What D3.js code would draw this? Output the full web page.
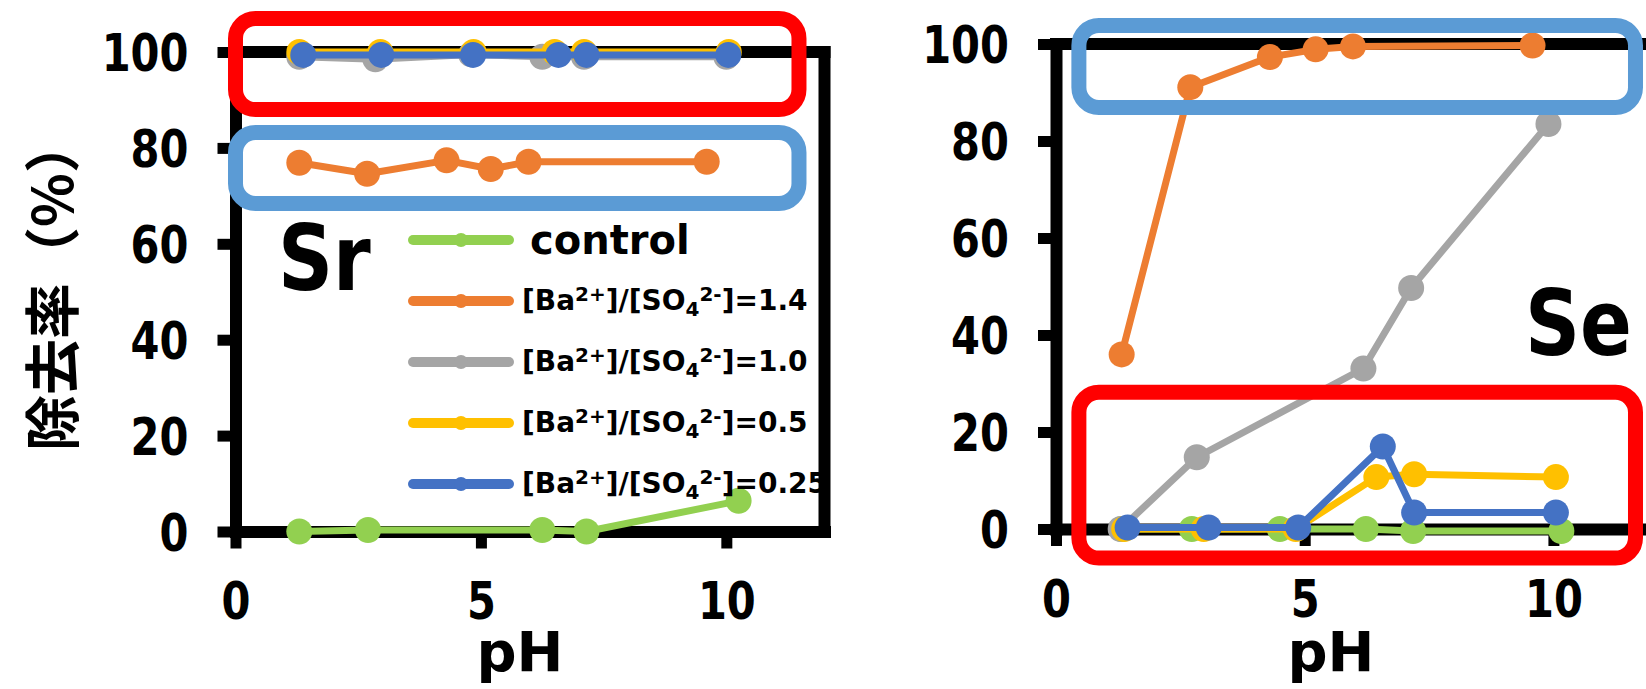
<!DOCTYPE html>
<html>
<head>
<meta charset="utf-8">
<script src="https://cdn.jsdelivr.net/npm/d3@7"></script>
<style>
  body { margin: 0; background: #fff; }
  svg { display: block; }
</style>
</head>
<body>
<div class="chart"></div>
<script>
// Data : [pH, removal %]
const phTicks = [0, 5, 10];
const pctTicks = [0, 20, 40, 60, 80, 100];
const seriesLabels = ["control", "1.4", "1.0", "0.5", "0.25"];
const seriesColors = ["#92D050", "#ED7D31", "#A5A5A5", "#FFC000", "#4472C4"];

// Sr panel
const srControl = [[1.3, 0], [2.7, 0.3], [6.25, 0.3], [7.15, 0], [10.25, 6.4]];
const srRatio14 = [[1.3, 76.9], [2.68, 74.6], [4.3, 77.4], [5.2, 75.6], [5.97, 77.1], [9.6, 77.1]];
const srRatio10 = [[1.3, 99], [2.85, 98.5], [4.8, 99.5], [6.25, 99], [7.1, 99], [10.0, 99]];
const srRatio05 = [[1.3, 100], [2.95, 100], [4.85, 100], [6.5, 100], [7.1, 100], [10.05, 100]];
const srRatio025 = [[1.38, 99.4], [2.97, 99.4], [4.84, 99.4], [6.58, 99.4], [7.15, 99.4], [10.04, 99.4]];

// Se panel
const seControl = [[1.32, 0], [2.73, 0], [4.5, 0], [6.23, 0], [7.18, -0.4], [10.16, -0.4]];
const seRatio14 = [[1.32, 36], [2.7, 91.1], [4.3, 97.3], [5.22, 98.9], [5.97, 99.5], [9.58, 99.7]];
const seRatio10 = [[1.3, 0], [2.83, 14.8], [6.18, 33.1], [7.14, 49.7], [9.9, 83.5]];
const seRatio05 = [[1.37, 0], [2.97, 0], [4.82, 0], [6.44, 10.7], [7.2, 11.3], [10.05, 10.7]];
const seRatio025 = [[1.44, 0.3], [3.07, 0.3], [4.87, 0.3], [6.57, 17.0], [7.2, 3.4], [10.05, 3.4]];

// highlight boxes in data units: [pH from, pH to, % low, % high, colour]
const srBoxes = [[0, 11.48, 88, 107, "#FF0000"], [0, 11.48, 68.4, 83.2, "#5B9BD5"]];
const seBoxes = [[0.46, 11.65, 86.9, 103.8, "#5B9BD5"], [0.46, 11.65, -6, 28.2, "#FF0000"]];

const width = 1646, height = 689;
const svg = d3.select(".chart").append("svg")
    .attr("width", width)
    .attr("height", height);
svg.append("rect").attr("width", width).attr("height", height).attr("fill", "#fff");

function drawPanel(cfg, series, boxes, element) {
    const x = d3.scaleLinear().domain([0, 12]).range([cfg.left, cfg.right]);
    const y = d3.scaleLinear().domain([0, 100]).range([cfg.bottom, cfg.top]);
    const g = svg.append("g");

    // y axis
    const yAx = g.append("g")
        .attr("transform", `translate(${x(0)},0)`)
        .call(d3.axisLeft(y).tickValues(pctTicks).tickSize(18).tickSizeOuter(0).tickPadding(0));
    // x axis
    const xAx = g.append("g")
        .attr("transform", `translate(0,${y(0)})`)
        .call(d3.axisBottom(x).tickValues(phTicks).tickSize(17).tickSizeOuter(0).tickPadding(0));

    [yAx, xAx].forEach(a => {
        a.select(".domain").attr("stroke", "#000").attr("stroke-width", 12).attr("stroke-linecap", "square");
        a.selectAll(".tick line").attr("stroke", "#000").attr("stroke-width", 11);
        a.selectAll(".tick text")
            .attr("fill", "#000")
            .style("font-family", "'DejaVu Sans', sans-serif")
            .style("font-weight", "bold")
            .style("font-size", "52px");
    });
    yAx.selectAll(".tick text")
        .attr("x", 0).attr("dy", "0.36em").attr("text-anchor", "end")
        .attr("transform", "translate(-47,0) scale(0.8,1)");
    xAx.selectAll(".tick text")
        .attr("y", 0).attr("dy", "0.36em").attr("text-anchor", "middle")
        .attr("transform", "translate(0,69) scale(0.8,1)");

    // frame top + right
    g.append("line")
        .attr("x1", x(0)).attr("x2", x(12)).attr("y1", y(100)).attr("y2", y(100))
        .attr("stroke", "#000").attr("stroke-width", 12).attr("stroke-linecap", "square");
    g.append("line")
        .attr("x1", x(12)).attr("x2", x(12)).attr("y1", y(100)).attr("y2", y(0))
        .attr("stroke", "#000").attr("stroke-width", 12).attr("stroke-linecap", "square");

    // series
    const line = d3.line().x(d => x(d[0])).y(d => y(d[1]));
    series.forEach((s, i) => {
        g.append("path")
            .attr("d", line(s))
            .attr("fill", "none")
            .attr("stroke", seriesColors[i])
            .attr("stroke-width", 7)
            .attr("stroke-linejoin", "round");
        g.selectAll(null)
            .data(s)
            .enter()
            .append("circle")
            .attr("cx", d => x(d[0]))
            .attr("cy", d => y(d[1]))
            .attr("r", 13)
            .attr("fill", seriesColors[i]);
    });

    // element label
    g.append("text")
        .attr("transform", `translate(${cfg.elemX},${cfg.elemY}) scale(0.85,1)`)
        .style("font-family", "'DejaVu Sans', sans-serif")
        .style("font-weight", "bold")
        .style("font-size", "90px")
        .text(element);

    // pH label
    g.append("text")
        .attr("x", cfg.phX).attr("y", 671)
        .attr("text-anchor", "middle")
        .style("font-family", "'DejaVu Sans', sans-serif")
        .style("font-weight", "bold")
        .style("font-size", "56px")
        .text("pH");

    // highlight boxes
    g.selectAll(null)
        .data(boxes)
        .enter()
        .append("rect")
        .attr("x", d => x(d[0]))
        .attr("y", d => y(d[3]))
        .attr("width", d => x(d[1]) - x(d[0]))
        .attr("height", d => y(d[2]) - y(d[3]))
        .attr("rx", 20)
        .attr("fill", "none")
        .attr("stroke", d => d[4])
        .attr("stroke-width", 15);

    return g;
}

drawPanel({left: 235.5, right: 824.5, bottom: 531.5, top: 52, elemX: 278, elemY: 290, phX: 520},
    [srControl, srRatio14, srRatio10, srRatio05, srRatio025], srBoxes, "Sr");
drawPanel({left: 1056, right: 1652.9, bottom: 529, top: 44, elemX: 1525, elemY: 355, phX: 1331},
    [seControl, seRatio14, seRatio10, seRatio05, seRatio025], seBoxes, "Se");

// legend
const legend = svg.append("g");
const rows = legend.selectAll("g")
    .data(seriesLabels)
    .enter()
    .append("g")
    .attr("transform", (d, i) => `translate(0,${240 + i * 61})`);
rows.append("line")
    .attr("x1", 413).attr("x2", 509).attr("y1", 0).attr("y2", 0)
    .attr("stroke", (d, i) => seriesColors[i])
    .attr("stroke-width", 10)
    .attr("stroke-linecap", "round");
rows.append("circle")
    .attr("cx", 461).attr("cy", 0).attr("r", 7)
    .attr("fill", (d, i) => seriesColors[i]);
rows.each(function(d, i) {
    const t = d3.select(this).append("text")
        .style("font-family", "'DejaVu Sans', sans-serif")
        .style("font-weight", "bold")
        .attr("fill", "#000");
    if (i === 0) {
        t.attr("x", 530).attr("y", 14).style("font-size", "40px").text(d);
        return;
    }
    t.attr("x", 522).attr("y", 9).style("font-size", "28px");
    t.append("tspan").text("[Ba");
    t.append("tspan").attr("dy", -9).style("font-size", "20px").text("2+");
    t.append("tspan").attr("dy", 9).text("]/[SO");
    t.append("tspan").attr("dy", 6).style("font-size", "20px").text("4");
    t.append("tspan").attr("dy", -15).style("font-size", "20px").text("2-");
    t.append("tspan").attr("dy", 9).text("]=" + d);
});

// y axis title
svg.append("text")
    .attr("transform", "translate(48,284) rotate(-90)")
    .attr("text-anchor", "middle")
    .attr("dominant-baseline", "central")
    .style("font-family", "'Noto Sans CJK JP', sans-serif")
    .style("font-weight", "bold")
    .style("font-size", "56px")
    .text("除去率（%）");
</script>
</body>
</html>
